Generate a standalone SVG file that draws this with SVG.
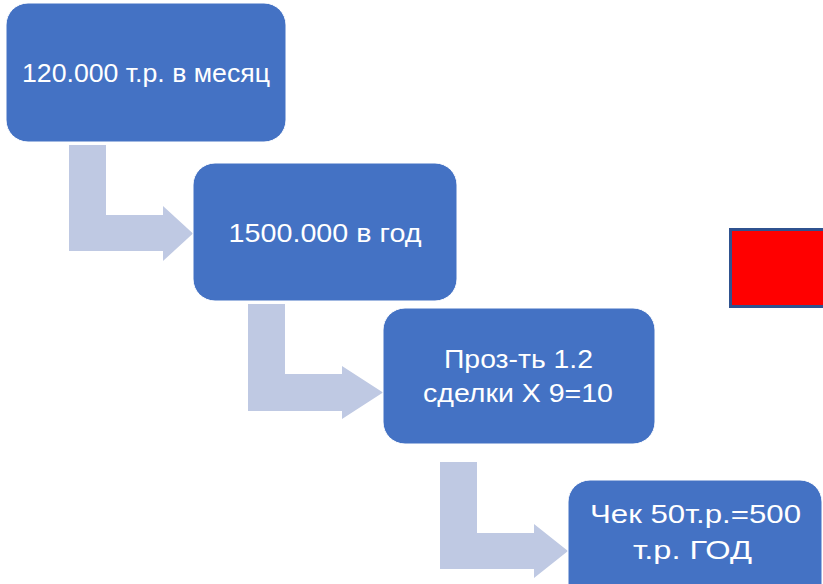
<svg xmlns="http://www.w3.org/2000/svg" width="823" height="584" viewBox="0 0 823 584">
<style>
.box{fill:#4472C4;stroke:#ffffff;stroke-width:1}
.arr{fill:#BFC9E3}
.t{font-family:"Liberation Sans",Arial,sans-serif;font-size:26px;fill:#ffffff;text-anchor:middle}
</style>
<rect width="823" height="584" fill="#ffffff"/>
<g id="connectors">
<path class="arr" d="M69,145 H106 V215 H163 V206 L193,233.5 L163,261 V251 H69 Z"/>
<path class="arr" d="M248,304 H285 V374 H342 V366 L383,392.5 L342,419 V411 H248 Z"/>
<path class="arr" d="M440,462 H477 V533 H534 V524 L568,551 L534,578 V569 H440 Z"/>
</g>
<g id="node1">
<rect class="box" x="6" y="3" width="280" height="139" rx="22"/>
<text class="t" x="146" y="82" textLength="248" lengthAdjust="spacingAndGlyphs">120.000 т.р. в месяц</text>
</g>
<g id="node2">
<rect class="box" x="193" y="163" width="264" height="138" rx="22"/>
<text class="t" x="325" y="242" textLength="193" lengthAdjust="spacingAndGlyphs">1500.000 в год</text>
</g>
<g id="node3">
<rect class="box" x="383" y="308" width="272" height="136" rx="22"/>
<text class="t" x="518.5" y="368" textLength="149" lengthAdjust="spacingAndGlyphs">Проз-ть 1.2</text>
<text class="t" x="518" y="402" textLength="190" lengthAdjust="spacingAndGlyphs">сделки Х 9=10</text>
</g>
<g id="node4">
<rect class="box" x="568" y="480" width="254" height="136" rx="22"/>
<text class="t" x="695.5" y="523" textLength="211" lengthAdjust="spacingAndGlyphs">Чек 50т.р.=500</text>
<text class="t" x="692.5" y="559" textLength="119" lengthAdjust="spacingAndGlyphs">т.р. ГОД</text>
</g>
<g id="red">
<rect x="730.5" y="229.5" width="100" height="77" fill="#FF0000" stroke="#2F528F" stroke-width="3"/>
</g>
</svg>
